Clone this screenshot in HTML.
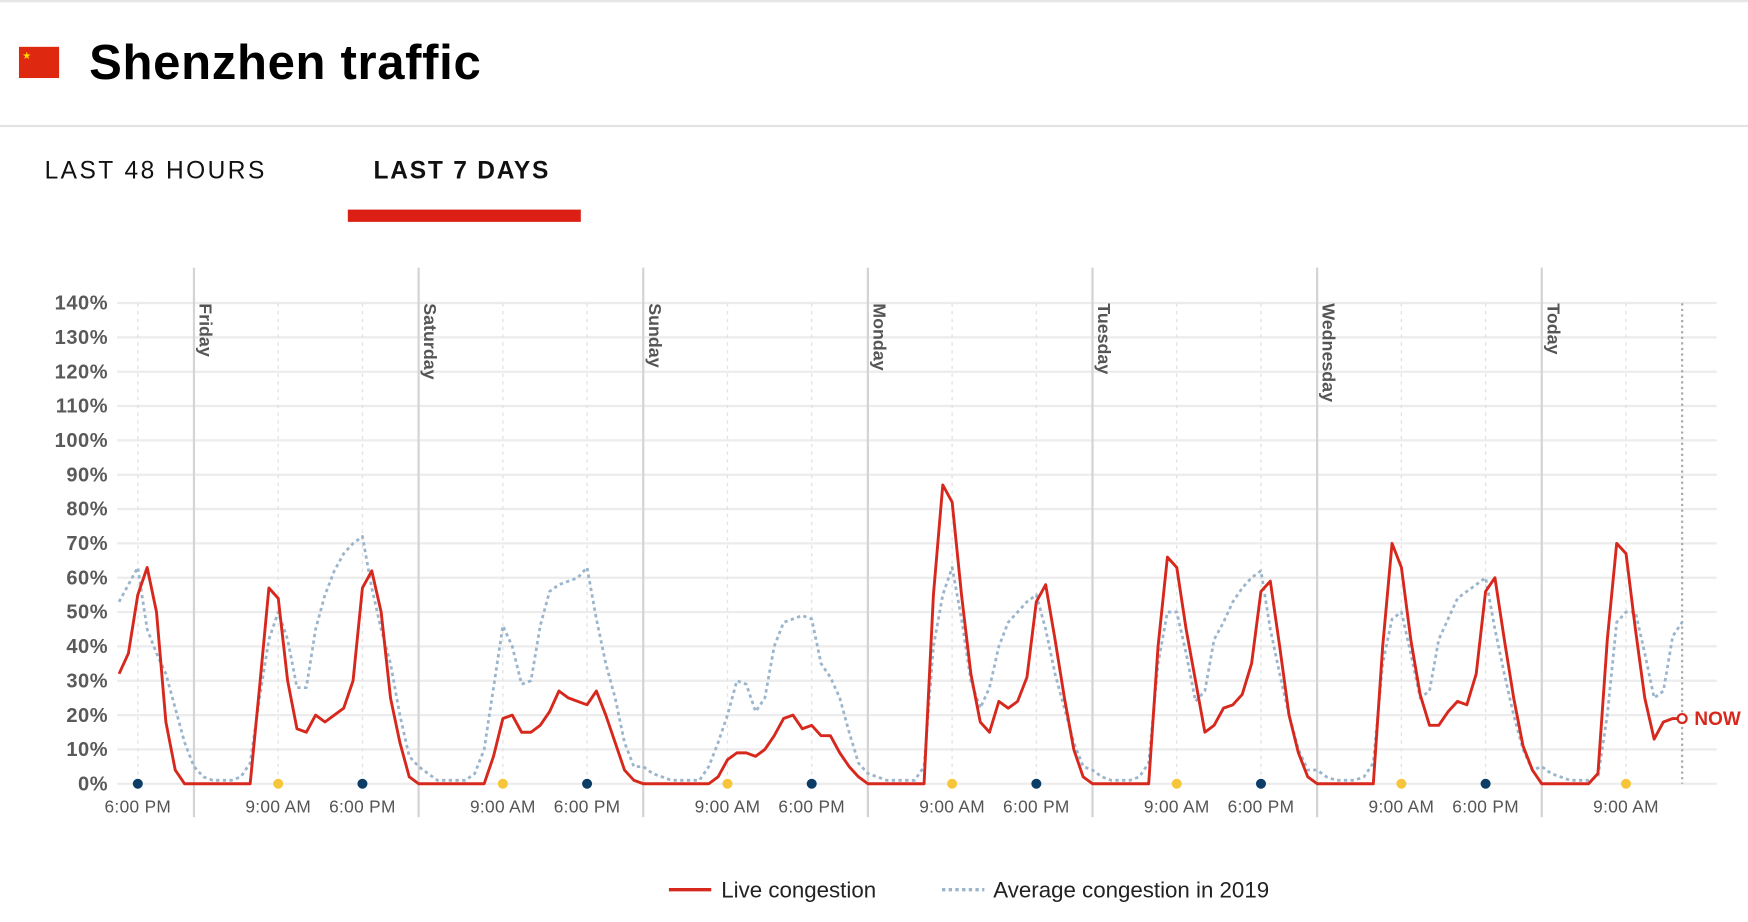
<!DOCTYPE html>
<html><head><meta charset="utf-8"><style>
html,body{margin:0;padding:0;background:#fff;width:1748px;height:922px;overflow:hidden}
svg{display:block}
text{font-family:"Liberation Sans",sans-serif}
</style></head><body>
<svg id="s" width="1748" height="922" viewBox="0 0 1568 827" preserveAspectRatio="none" xmlns="http://www.w3.org/2000/svg">
<line x1="0" y1="1" x2="1568" y2="1" stroke="#e6e6e6" stroke-width="2"/>
<line x1="0" y1="113" x2="1568" y2="113" stroke="#e3e3e3" stroke-width="2"/>
<rect x="17" y="42" width="36" height="28" fill="#de2910"/>
<text x="20" y="53" font-size="9" fill="#ffde00">★</text>
<text x="80" y="71" font-size="44" font-weight="bold" fill="#000" letter-spacing="0.6">Shenzhen traffic</text>
<text x="40" y="160" font-size="22" fill="#111" letter-spacing="2.2">LAST 48 HOURS</text>
<text x="335" y="160" font-size="22" font-weight="bold" fill="#111" letter-spacing="1.6">LAST 7 DAYS</text>
<rect x="312" y="188" width="209" height="11" fill="#dc1f14"/>
<g id="grid"></g>
<g id="series"></g>
<line x1="600" y1="798" x2="638" y2="798" stroke="#d7281d" stroke-width="3"/>
<text x="647" y="805" font-size="20" fill="#222">Live congestion</text>
<line x1="845" y1="798" x2="883" y2="798" stroke="#9bb5cc" stroke-width="3" stroke-dasharray="3,3"/>
<text x="891" y="805" font-size="20" fill="#222">Average congestion in 2019</text>
</svg>
<script>
var NS="http://www.w3.org/2000/svg";
function el(p,t,a,txt){var e=document.createElementNS(NS,t);for(var k in a)e.setAttribute(k,a[k]);if(txt!=null)e.textContent=txt;p.appendChild(e);return e;}
var g=document.getElementById('grid'),sr=document.getElementById('series');
function Y(v){return 703-v*3.08;}
var D0=174,DW=201.5,HP=DW/24;
for(var i=0;i<=14;i++){var y=Y(i*10);
 el(g,'line',{x1:105,y1:y,x2:1540,y2:y,stroke:'#ececec','stroke-width':2});
 el(g,'text',{x:97,y:y+6,'font-size':18,'font-weight':'bold',fill:'#5a5a5a','text-anchor':'end','letter-spacing':'0.5'},(i*10)+'%');}
var days=['Friday','Saturday','Sunday','Monday','Tuesday','Wednesday','Today'];
var ticks=[[D0-6*HP,'6:00 PM','#0b3d66']];
for(var d=0;d<7;d++){var b=D0+d*DW;ticks.push([b+9*HP,'9:00 AM','#f6c53a']);if(d<6)ticks.push([b+18*HP,'6:00 PM','#0b3d66']);}
ticks.forEach(function(t){
 el(g,'line',{x1:t[0],y1:272,x2:t[0],y2:703,stroke:'#e2e2e2','stroke-width':1.2,'stroke-dasharray':'3,4'});
 el(g,'text',{x:t[0],y:729,'font-size':15.5,fill:'#555','text-anchor':'middle','letter-spacing':'0.3'},t[1]);
 el(g,'circle',{cx:t[0],cy:703,r:4.5,fill:t[2]});});
for(var d=0;d<7;d++){var x=D0+d*DW;
 el(g,'line',{x1:x,y1:240,x2:x,y2:733,stroke:'#d4d4d4','stroke-width':2});
 el(g,'text',{x:0,y:0,'font-size':16,'font-weight':'bold',fill:'#555',transform:'translate('+(x+5)+',272) rotate(90)'},days[d]);}
var nowX=D0+6*DW+15*HP;
el(g,'line',{x1:nowX,y1:272,x2:nowX,y2:703,stroke:'#aaa','stroke-width':2,'stroke-dasharray':'2,3'});
var liveThu=[32,38,55,63,50,18,4,0];
var avgThu=[53,58,63,45,38,32,22,12];
var live=[
[0,0,0,0,0,0,0,28,57,54,30,16,15,20,18,20,22,30,57,62,50,25,12,2],
[0,0,0,0,0,0,0,0,8,19,20,15,15,17,21,27,25,24,23,27,20,12,4,1],
[0,0,0,0,0,0,0,0,2,7,9,9,8,10,14,19,20,16,17,14,14,9,5,2],
[0,0,0,0,0,0,0,55,87,82,55,32,18,15,24,22,24,31,53,58,42,25,10,2],
[0,0,0,0,0,0,0,40,66,63,45,30,15,17,22,23,26,35,56,59,40,20,9,2],
[0,0,0,0,0,0,0,40,70,63,42,26,17,17,21,24,23,32,56,60,42,25,11,4],
[0,0,0,0,0,0,3,42,70,67,45,25,13,18,19,19]];
var avg=[
[5,2,1,1,1,2,6,25,42,50,42,28,28,45,55,62,67,70,72,57,45,35,20,8],
[5,3,1,1,1,1,3,10,28,46,40,29,30,46,56,58,59,60,63,48,35,25,12,5],
[5,3,2,1,1,1,1,5,12,20,30,29,21,25,40,47,48,49,48,35,31,25,15,6],
[3,2,1,1,1,1,5,40,55,63,48,30,22,28,40,47,50,53,55,45,32,22,12,5],
[4,2,1,1,1,2,6,35,50,50,38,24,27,42,47,53,57,60,62,45,32,20,10,4],
[4,2,1,1,1,2,6,35,48,50,38,25,27,42,48,54,56,58,60,45,32,20,10,4],
[5,3,2,1,1,1,2,20,47,50,50,38,25,27,43,47]];
function pts(th,arr){var p=[];th.forEach(function(v,i){p.push([D0+(i-8)*HP,v]);});
 arr.forEach(function(day,d){day.forEach(function(v,h){p.push([D0+d*DW+h*HP,v]);});});
 return p.map(function(q,i){return (i?'L':'M')+q[0].toFixed(1)+','+Y(q[1]).toFixed(1);}).join(' ');}
el(sr,'path',{d:pts(avgThu,avg),fill:'none',stroke:'#9bb5cc','stroke-width':2.5,'stroke-dasharray':'3,3','stroke-linejoin':'round'});
el(sr,'path',{d:pts(liveThu,live),fill:'none',stroke:'#d7281d','stroke-width':2.6,'stroke-linejoin':'round'});
el(sr,'circle',{cx:nowX,cy:Y(19),r:4,fill:'#fff',stroke:'#d7281d','stroke-width':2});
el(sr,'text',{x:nowX+11,y:Y(19)+6,'font-size':17,'font-weight':'bold',fill:'#d7281d'},'NOW');
</script>
</body></html>
